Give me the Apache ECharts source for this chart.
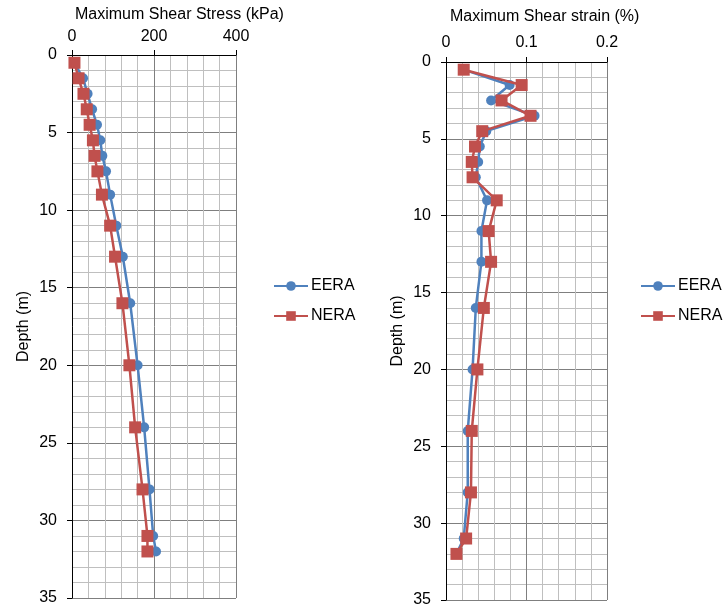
<!DOCTYPE html>
<html>
<head>
<meta charset="utf-8">
<script src="https://cdn.jsdelivr.net/npm/echarts@6/dist/echarts.min.js"></script>
<style>html,body{margin:0;padding:0;background:#fff}#c{width:723px;height:609px}</style>
</head>
<body>
<div id="c"></div>
<script>
// Data
const depths = [0.5, 1.5, 2.5, 3.5, 4.5, 5.5, 6.5, 7.5, 9, 11, 13, 16, 20, 24, 28, 31, 32];
const eeraStress = [6, 27, 38, 49, 61, 69, 74, 83, 93, 108, 124, 142, 160, 176, 189, 198, 205];
const neraStress = [6, 16, 28, 36, 43, 51, 55, 62, 73, 93, 105, 123, 140, 154, 172, 184, 184];
const eeraStrain = [0.022, 0.079, 0.056, 0.110, 0.050, 0.042, 0.040, 0.037, 0.051, 0.044, 0.044, 0.037, 0.033, 0.027, 0.027, 0.022, 0.013];
const neraStrain = [0.022, 0.094, 0.069, 0.105, 0.045, 0.036, 0.032, 0.033, 0.063, 0.053, 0.056, 0.047, 0.039, 0.032, 0.031, 0.025, 0.013];
const seriesNames = ['EERA', 'NERA'];
const stressTitle = 'Maximum Shear Stress (kPa)';
const strainTitle = 'Maximum Shear strain (%)';
const depthTitle = 'Depth (m)';

const FONT = 'Liberation Sans, Arial, sans-serif';
const BLUE = '#4F81BD';
const RED = '#C0504D';
const txt = {color: '#000', fontFamily: FONT, fontSize: 16};

function pairs(xs) { return xs.map((v, i) => [v, depths[i]]); }

function xAxis(gridIndex, max, interval, margin) {
  return {
    gridIndex, type: 'value', position: 'top', min: 0, max, interval,
    axisLine: {show: true, onZero: false, lineStyle: {color: '#000', width: 1}},
    axisTick: {show: true, inside: false, length: 5, lineStyle: {color: '#000'}},
    axisLabel: {...txt, margin},
    splitLine: {show: true, lineStyle: {color: '#7f7f7f', width: 1}},
    minorTick: {show: true, splitNumber: 5, length: 0},
    minorSplitLine: {show: true, lineStyle: {color: '#bfbfbf', width: 1}}
  };
}
function yAxis(gridIndex, gap) {
  return {
    gridIndex, type: 'value', inverse: true, min: 0, max: 35, interval: 5,
    name: depthTitle, nameLocation: 'middle', nameGap: gap, nameRotate: 90,
    nameTextStyle: {...txt},
    axisLine: {show: true, onZero: false, lineStyle: {color: '#000', width: 1}},
    axisTick: {show: true, inside: false, length: 5, lineStyle: {color: '#000'}},
    axisLabel: {...txt, margin: 15},
    splitLine: {show: true, lineStyle: {color: '#7f7f7f', width: 1}},
    minorTick: {show: true, splitNumber: 5, length: 0},
    minorSplitLine: {show: true, lineStyle: {color: '#bfbfbf', width: 1}}
  };
}
function line(name, data, xi, color, symbol, size) {
  return {
    name, type: 'line', xAxisIndex: xi, yAxisIndex: xi, data,
    symbol, symbolSize: size, showAllSymbol: true,
    lineStyle: {color, width: 2.5},
    itemStyle: {color, borderWidth: 0},
    animation: false, z: name === 'NERA' ? 3 : 2
  };
}

const chart = echarts.init(document.getElementById('c'), null, {renderer: 'canvas'});
chart.setOption({
  backgroundColor: '#fff',
  animation: false,
  title: [
    {text: stressTitle, left: 75, top: 7, textStyle: {...txt, fontWeight: 'normal'}, padding: 0},
    {text: strainTitle, left: 450, top: 9, textStyle: {...txt, fontWeight: 'normal'}, padding: 0}
  ],
  grid: [
    {left: 72, top: 55, width: 164, height: 543},
    {left: 446, top: 62, width: 161, height: 538}
  ],
  xAxis: [xAxis(0, 400, 200, 10), xAxis(1, 0.2, 0.1, 11)],
  yAxis: [yAxis(0, 40), yAxis(1, 40)],
  legend: [
    {data: seriesNames, orient: 'vertical', left: 273, top: 278, padding: 0, itemWidth: 34, itemHeight: 12, itemGap: 14,
     textStyle: {...txt, padding: [0, 0, 0, -2]}, selectedMode: false},
    {data: seriesNames, orient: 'vertical', left: 640, top: 278, padding: 0, itemWidth: 34, itemHeight: 12, itemGap: 14,
     textStyle: {...txt, padding: [0, 0, 0, -2]}, selectedMode: false}
  ],
  series: [
    line('EERA', pairs(eeraStress), 0, BLUE, 'circle', 10),
    line('NERA', pairs(neraStress), 0, RED, 'rect', 12),
    line('EERA', pairs(eeraStrain), 1, BLUE, 'circle', 10),
    line('NERA', pairs(neraStrain), 1, RED, 'rect', 12)
  ]
});
</script>
</body>
</html>
